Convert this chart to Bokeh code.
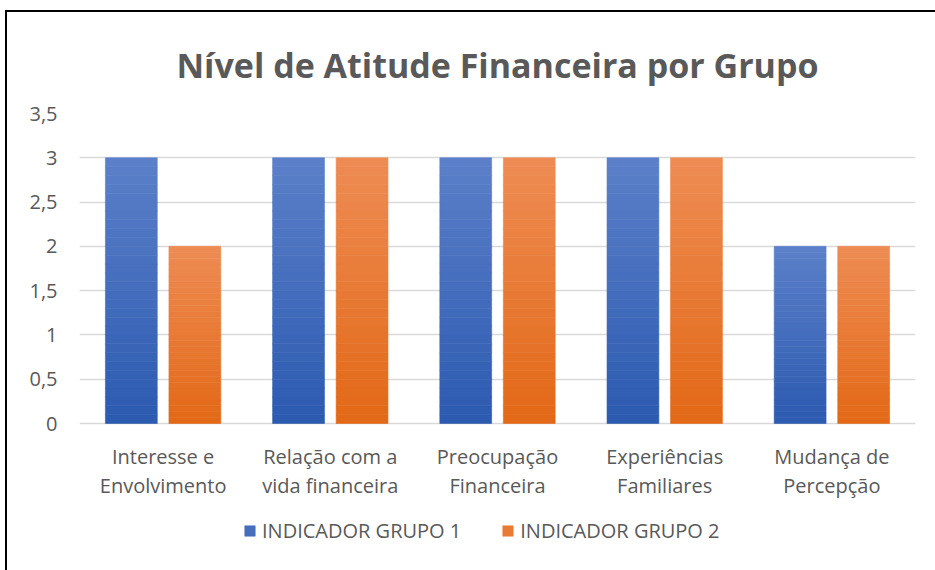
from bokeh.plotting import figure
from bokeh.models import ColumnDataSource, FactorRange, Range1d, Legend, LegendItem, FixedTicker
from bokeh.transform import dodge
from bokeh.core.properties import value
from bokeh.embed import file_html
from bokeh.resources import INLINE

categories = ["Interesse e\nEnvolvimento", "Relação com a\nvida financeira",
              "Preocupação\nFinanceira", "Experiências\nFamiliares", "Mudança de\nPercepção"]
grupo1 = [3, 3, 3, 3, 2]
grupo2 = [2, 3, 3, 3, 2]
series_names = ["INDICADOR GRUPO 1", "INDICADOR GRUPO 2"]
y_ticks = [0, 0.5, 1, 1.5, 2, 2.5, 3, 3.5]
y_tick_labels = ["0", "0,5", "1", "1,5", "2", "2,5", "3", "3,5"]

# gradient colours (top -> bottom)
blue_top, blue_bot = (92, 128, 201), (44, 90, 176)
orange_top, orange_bot = (238, 140, 84), (226, 104, 22)
N = 30
TEXT = "#595959"

# layout (pixels)
FRAME_W = 836
PLOT_H = 310          # pixels from value 0 to value 3.5
EXTRA_H = 142         # pixels of frame below value 0 (room for labels and legend)
Y_MAX = 3.5
Y_MIN = -Y_MAX * EXTRA_H / PLOT_H


def hexc(c):
    return "#%02x%02x%02x" % tuple(int(round(v)) for v in c)


def grad_source(values, top, bot):
    xs, bottoms, tops, colors = [], [], [], []
    for cat, v in zip(categories, values):
        for i in range(N):
            f = (i + 0.5) / N  # 0 bottom -> 1 top
            xs.append(cat)
            bottoms.append(v * i / N)
            tops.append(v * (i + 1) / N)
            colors.append(hexc([b + (t - b) * f for t, b in zip(top, bot)]))
    return ColumnDataSource(dict(x=xs, bottom=bottoms, top=tops, color=colors))


p = figure(x_range=FactorRange(factors=categories, range_padding=0),
           y_range=Range1d(Y_MIN, Y_MAX),
           frame_width=FRAME_W, frame_height=PLOT_H + EXTRA_H,
           min_border_left=72, min_border_right=20, min_border_top=101, min_border_bottom=5,
           x_axis_location=None,
           output_backend="svg", toolbar_location=None,
           title="Nível de Atitude Financeira por Grupo")
p.styles = {"margin-left": "5px", "margin-top": "10px",
            "border-left": "2px solid black", "border-top": "2px solid black"}

p.title.align = "center"
p.title.text_font = "Open Sans"
p.title.text_font_size = "34px"
p.title.text_font_style = "bold"
p.title.text_color = TEXT
p.title.standoff = 52

s1 = grad_source(grupo1, blue_top, blue_bot)
s2 = grad_source(grupo2, orange_top, orange_bot)
r1 = p.vbar(x=dodge("x", -0.19, range=p.x_range), bottom="bottom", top="top", width=0.31,
            source=s1, fill_color="color", line_color="color", line_width=0.6)
r2 = p.vbar(x=dodge("x", 0.19, range=p.x_range), bottom="bottom", top="top", width=0.31,
            source=s2, fill_color="color", line_color="color", line_width=0.6)

# category labels under the zero line
lab_src = ColumnDataSource(dict(x=categories, y=[0] * len(categories), label=categories))
p.text(x="x", y="y", text="label", source=lab_src,
       text_font=value("Open Sans"), text_font_size=value("20px"), text_color=TEXT,
       text_align="center", text_baseline="top", text_line_height=1.1, y_offset=19)

for g in p.grid:
    if g.dimension == 0:
        g.visible = False
p.ygrid.ticker = FixedTicker(ticks=y_ticks)
p.ygrid.grid_line_color = "#d9d9d9"
p.ygrid.grid_line_width = 1.5
p.outline_line_color = None

p.yaxis.ticker = FixedTicker(ticks=y_ticks)
p.yaxis.major_label_overrides = {float(t): l for t, l in zip(y_ticks, y_tick_labels)}
p.yaxis.axis_line_color = None
p.yaxis.major_tick_line_color = None
p.yaxis.minor_tick_line_color = None
p.yaxis.major_tick_out = 0
p.yaxis.major_tick_in = 0
p.yaxis.major_label_text_font = "Open Sans"
p.yaxis.major_label_text_font_size = "20px"
p.yaxis.major_label_text_color = TEXT
p.yaxis.major_label_standoff = 22

legend = Legend(items=[LegendItem(label=series_names[0], renderers=[r1], index=N // 2),
                       LegendItem(label=series_names[1], renderers=[r2], index=N // 2)],
                orientation="horizontal", location=(164, 21),
                label_text_font="Open Sans", label_text_font_size="20px", label_text_color=TEXT,
                glyph_width=13, glyph_height=13, spacing=40, label_standoff=6,
                border_line_color=None, background_fill_alpha=0, padding=0, margin=0)
p.add_layout(legend)

open("out.html", "w").write(file_html(p, INLINE))
